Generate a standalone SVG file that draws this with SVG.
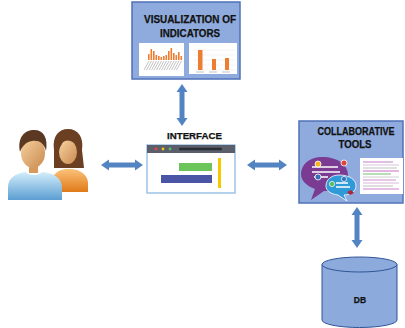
<svg xmlns="http://www.w3.org/2000/svg" width="405" height="328" viewBox="0 0 405 328">
  <defs>
    <style>
      .box { fill: #8faadc; stroke: #4f72b8; stroke-width: 1.5; }
      .title { font-family: "Liberation Sans", Arial, sans-serif; font-weight: bold; fill: #111; text-anchor: middle; stroke: #111; stroke-width: 0.25; }
      .arrow { fill: #5384c2; }
      .panel { fill: #ffffff; }
      .obar { fill: #ed7d31; }
      .grid { stroke: #e4e4e4; stroke-width: 0.5; }
      .lbl { stroke: #9a9a9a; stroke-width: 0.6; }
    </style>
    <linearGradient id="skin" x1="0" y1="0" x2="1" y2="1">
      <stop offset="0" stop-color="#f8d2a0"/>
      <stop offset="1" stop-color="#c98a50"/>
    </linearGradient>
    <linearGradient id="shirtBlue" x1="0" y1="0" x2="0" y2="1">
      <stop offset="0" stop-color="#d3eefb"/>
      <stop offset="1" stop-color="#5c9ed2"/>
    </linearGradient>
    <linearGradient id="shirtOrange" x1="0" y1="0" x2="0" y2="1">
      <stop offset="0" stop-color="#fbc27a"/>
      <stop offset="1" stop-color="#e07a18"/>
    </linearGradient>
  </defs>

  <!-- users -->
  <g id="users">
    <!-- woman (behind) -->
    <path d="M54,150 C52,136 59,129 68,129 C78,129 84,137 82,150 L84,168 L54,168 Z" fill="#6b3f22"/>
    <path d="M52,192 L52,182 C52,174 58,170 66,169 L72,169 C80,170 87,174 88,182 L88,192 Z" fill="url(#shirtOrange)"/>
    <ellipse cx="68" cy="152" rx="9" ry="12" fill="url(#skin)"/>
    <path d="M59,149 C58,138 63,133 69,133 C75,133 79,139 78,147 C74,141 68,139 63,142 Z" fill="#6b3f22"/>
    <!-- man (front) -->
    <path d="M8,200 L8,187 C8,178 16,173 26,172 L42,172 C54,173 62,178 62,188 L62,200 Z" fill="url(#shirtBlue)"/>
    <path d="M26,172 C28,176 40,176 42,172 Z" fill="#ffffff"/>
    <rect x="29" y="163" width="9" height="10" fill="#d79a5c"/>
    <ellipse cx="33" cy="153" rx="12" ry="15" fill="url(#skin)"/>
    <path d="M20,152 C17,137 25,130 34,130 C44,130 48,138 46,151 C44,143 39,140 32,141 C26,142 22,146 20,152 Z" fill="#5a3822"/>
  </g>

  <!-- visualization of indicators -->
  <g id="visualization">
    <rect class="box" x="132" y="2" width="108" height="77"/>
    <text class="title" x="190" y="23" font-size="11" textLength="92" lengthAdjust="spacingAndGlyphs">VISUALIZATION OF</text>
    <text class="title" x="190" y="37" font-size="11" textLength="60" lengthAdjust="spacingAndGlyphs">INDICATORS</text>
    <!-- bar chart with many categories -->
    <rect class="panel" x="139" y="43" width="45" height="33"/>
    <g class="obar">
      <rect x="148" y="54" width="1.6" height="6"/>
      <rect x="150.5" y="49" width="1.6" height="11"/>
      <rect x="153" y="51" width="1.6" height="9"/>
      <rect x="155.5" y="55" width="1.6" height="5"/>
      <rect x="158" y="56" width="1.6" height="4"/>
      <rect x="160.5" y="57" width="1.6" height="3"/>
      <rect x="163" y="56" width="1.6" height="4"/>
      <rect x="165.5" y="55" width="1.6" height="5"/>
      <rect x="168" y="51" width="1.6" height="9"/>
      <rect x="170.5" y="48" width="1.6" height="12"/>
      <rect x="173" y="53" width="1.6" height="7"/>
      <rect x="175.5" y="55" width="1.6" height="5"/>
      <rect x="178" y="52" width="1.6" height="8"/>
      <rect x="180.5" y="56" width="1.6" height="4"/>
    </g>
    <g class="lbl">
      <path d="M149,61 l-5,9 M151.5,61 l-5,9 M154,61 l-5,9 M156.5,61 l-5,9 M159,61 l-5,9 M161.5,61 l-5,9 M164,61 l-5,9 M166.5,61 l-5,9 M169,61 l-5,9 M171.5,61 l-5,9 M174,61 l-5,9 M176.5,61 l-5,9 M179,61 l-5,9 M181.5,61 l-5,9"/>
    </g>
    <!-- bar chart with three categories -->
    <rect class="panel" x="189" y="43" width="48" height="31"/>
    <g class="grid">
      <path d="M194,50 H235 M194,55 H235 M194,60 H235 M194,65 H235 M194,70 H235"/>
    </g>
    <rect class="obar" x="198" y="50" width="4.5" height="20"/>
    <rect class="obar" x="212" y="59" width="4" height="11"/>
    <rect class="obar" x="225" y="58" width="4" height="12"/>
    <path d="M196,72 h8 M209,72 h8 M222,72 h8" stroke="#aaaaaa" stroke-width="0.7"/>
  </g>

  <!-- interface -->
  <g id="interface">
    <text class="title" x="194.5" y="139" font-size="9.5" textLength="55" lengthAdjust="spacingAndGlyphs">INTERFACE</text>
    <rect x="147" y="145" width="88" height="48" fill="#ffffff" stroke="#9cc3e6" stroke-width="1.5"/>
    <rect x="147" y="145" width="88" height="8" fill="#5a5f6b"/>
    <circle cx="156" cy="149" r="1.4" fill="#e8483c"/>
    <circle cx="163" cy="149" r="1.4" fill="#f5c518"/>
    <circle cx="170" cy="149" r="1.4" fill="#5cc15a"/>
    <rect x="179" y="147.8" width="43" height="2.4" rx="1.2" fill="#2b2e35"/>
    <rect x="179" y="163" width="33" height="8" fill="#6cc55a"/>
    <rect x="161" y="175" width="51" height="8" fill="#4a55a6"/>
    <rect x="218" y="158" width="3" height="30" fill="#f5c800"/>
  </g>

  <!-- collaborative tools -->
  <g id="collaborative">
    <rect class="box" x="299" y="121" width="104" height="82"/>
    <text class="title" x="356" y="135" font-size="10" textLength="77" lengthAdjust="spacingAndGlyphs">COLLABORATIVE</text>
    <text class="title" x="355" y="148" font-size="10" textLength="33" lengthAdjust="spacingAndGlyphs">TOOLS</text>
    <!-- chat bubbles -->
    <path d="M322,157 C338,157 348,165 348,175 C348,185 338,191 324,191 L311,200 L315,189 C307,186 301,181 301,174 C301,164 310,157 322,157 Z" fill="#7b3b93"/>
    <path d="M312,167 h26 M312,172 h28 M314,177 h14" stroke="#ffffff" stroke-width="1.5"/>
    <circle cx="318" cy="164" r="3" fill="#f5b51c" stroke="#fff" stroke-width="0.8"/>
    <circle cx="344" cy="163" r="3" fill="#e0443a" stroke="#fff" stroke-width="0.8"/>
    <circle cx="318" cy="177" r="3" fill="#3a6fb8" stroke="#fff" stroke-width="0.8"/>
    <path d="M339,175 C350,175 356,180 356,186 C356,191 351,195 344,195 L347,201 L338,195 C331,194 326,191 326,186 C326,180 331,175 339,175 Z" fill="#2f9ad8" stroke="#ffffff" stroke-width="0.8"/>
    <path d="M336,183 h12 M336,187 h14" stroke="#ffffff" stroke-width="1.3"/>
    <circle cx="332" cy="184" r="2.6" fill="#5cb85c" stroke="#fff" stroke-width="0.7"/>
    <circle cx="344" cy="179" r="2.6" fill="#3a6fb8" stroke="#fff" stroke-width="0.7"/>
    <path d="M347,192 l4,-2 l3,3 l-4,2 Z" fill="#b0263b"/>
    <!-- screenshot of a discussion -->
    <rect class="panel" x="360" y="158" width="43" height="36"/>
    <g stroke-width="1.1">
      <path d="M363,162 h30" stroke="#c98ad0"/>
      <path d="M363,165 h36" stroke="#d8c2dc"/>
      <path d="M363,168 h34" stroke="#bfbfbf"/>
      <path d="M363,171 h36" stroke="#c86fc9"/>
      <path d="M363,174 h28" stroke="#7dc47d"/>
      <path d="M363,177 h36" stroke="#d0d0d0"/>
      <path d="M363,180 h33" stroke="#cf8fd0"/>
      <path d="M363,183 h36" stroke="#d8b8dc"/>
      <path d="M363,186 h30" stroke="#c4c4c4"/>
      <path d="M363,189 h36" stroke="#cc7ccc"/>
    </g>
  </g>

  <!-- database -->
  <g id="db">
    <path d="M322,264.5 V320 A37.5,7.5 0 0 0 397,320 V264.5" fill="#8caadc" stroke="#2f5597" stroke-width="1"/>
    <ellipse cx="359.5" cy="264.5" rx="37.5" ry="7.5" fill="#8caadc" stroke="#2f5597" stroke-width="1"/>
    <text class="title" x="360" y="303" font-size="8.5">DB</text>
  </g>

  <!-- connectors: double-headed block arrows -->
  <g id="connectors">
    <path class="arrow" d="M182,84 L187.5,92 L184.5,92 L184.5,118 L187.5,118 L182,126 L176.5,118 L179.5,118 L179.5,92 L176.5,92 Z"/>
    <path class="arrow" d="M101,165 L109,159.5 L109,162.5 L135,162.5 L135,159.5 L143,165 L135,170.5 L135,167.5 L109,167.5 L109,170.5 Z"/>
    <path class="arrow" d="M247,165 L255,159.5 L255,162.5 L279,162.5 L279,159.5 L287,165 L279,170.5 L279,167.5 L255,167.5 L255,170.5 Z"/>
    <path class="arrow" d="M357,207 L362.5,215 L359.5,215 L359.5,240 L362.5,240 L357,248 L351.5,240 L354.5,240 L354.5,215 L351.5,215 Z"/>
  </g>
</svg>
